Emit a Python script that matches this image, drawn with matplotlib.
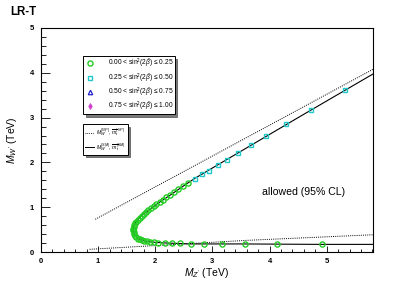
import matplotlib
matplotlib.use('Agg')
import matplotlib.pyplot as plt
from matplotlib.ticker import MultipleLocator

plt.rcParams['font.family'] = ['Liberation Sans', 'DejaVu Sans']
plt.rcParams['mathtext.fontset'] = 'custom'
plt.rcParams['mathtext.rm'] = 'Liberation Sans'
plt.rcParams['mathtext.it'] = 'Liberation Sans:italic'
plt.rcParams['mathtext.bf'] = 'Liberation Sans:bold'

# green circles: 0.00 < sin^2(2b) <= 0.25  (M_Z', M_W') in TeV
green_mz = [4.92, 4.13, 3.57, 3.16, 2.85, 2.63, 2.44, 2.29, 2.17, 2.05, 1.97, 1.91,
            1.86, 1.81, 1.77, 1.73, 1.70, 1.67, 1.65, 1.63, 1.62, 1.61, 1.61, 1.62,
            1.63, 1.65, 1.67, 1.70, 1.73, 1.76, 1.80, 1.84, 1.88, 1.93, 1.97, 2.02,
            2.08, 2.13, 2.19, 2.25, 2.32, 2.40, 2.49, 2.58]
green_mw = [0.17, 0.17, 0.18, 0.18, 0.18, 0.18, 0.19, 0.19, 0.20, 0.21, 0.22, 0.23,
            0.24, 0.25, 0.27, 0.28, 0.30, 0.33, 0.36, 0.40, 0.44, 0.48, 0.52, 0.56,
            0.60, 0.64, 0.68, 0.72, 0.76, 0.80, 0.85, 0.89, 0.94, 0.99, 1.03, 1.07,
            1.12, 1.17, 1.22, 1.27, 1.33, 1.40, 1.47, 1.55]

# cyan squares: 0.25 < sin^2(2b) <= 0.50
cyan_mz = [2.70, 2.81, 2.94, 3.09, 3.25, 3.44, 3.68, 3.94, 4.29, 4.73, 5.32]
cyan_mw = [1.64, 1.73, 1.81, 1.94, 2.05, 2.22, 2.38, 2.59, 2.86, 3.17, 3.62]

# no points in the other two bins
blue_mz, blue_mw = [], []
mag_mz, mag_mw = [], []

# SM curve (solid)
sm_mz = [5.90, 4.90, 3.50, 2.60, 2.20, 1.95, 1.80, 1.70, 1.64, 1.61, 1.62, 1.66,
         1.73, 1.82, 1.92, 2.05, 2.25, 2.50, 2.70, 3.50, 4.50, 5.90]
sm_mw = [0.17, 0.17, 0.18, 0.18, 0.20, 0.22, 0.25, 0.30, 0.38, 0.48, 0.58, 0.67,
         0.77, 0.87, 0.97, 1.09, 1.26, 1.48, 1.65, 2.25, 3.00, 4.04]

# NP bounds (dotted)
np_up_mz = [0.95, 5.90]
np_up_mw = [0.73, 4.14]
np_lo_mz = [0.85, 3.60, 5.90]
np_lo_mw = [0.06, 0.26, 0.39]

fig = plt.figure(figsize=(4.15, 2.81), dpi=100)
ax = fig.add_axes([0.0988, 0.1032, 0.80, 0.7972])

ax.plot(np_up_mz, np_up_mw, color='black', lw=0.7, ls=(0, (1, 1.2)))
ax.plot(np_lo_mz, np_lo_mw, color='black', lw=0.7, ls=(0, (1, 1.2)))
ax.plot(sm_mz, sm_mw, color='black', lw=0.8)

h1, = ax.plot(green_mz, green_mw, ls='none', marker='o', ms=3.7, mfc='none',
              mec='#22cc22', mew=1.0)
h2, = ax.plot(cyan_mz, cyan_mw, ls='none', marker='s', ms=3.4, mfc='none',
              mec='#22c8c8', mew=1.0)
h3, = ax.plot(blue_mz, blue_mw, ls='none', marker='^', ms=3.2, mfc='none',
              mec='#2222cc', mew=0.9)
h4, = ax.plot(mag_mz, mag_mw, ls='none', marker='d', ms=3.0, mfc='#cc44cc',
              mec='#cc44cc', mew=0.6)

ax.set_xlim(0, 5.81)
ax.set_ylim(0, 5)
ax.xaxis.set_major_locator(MultipleLocator(1))
ax.xaxis.set_minor_locator(MultipleLocator(0.2))
ax.yaxis.set_major_locator(MultipleLocator(1))
ax.yaxis.set_minor_locator(MultipleLocator(0.2))
ax.tick_params(axis='both', which='both', direction='in', labelsize=5.5, width=0.6)
ax.tick_params(axis='x', which='major', length=4.5, pad=4)
ax.tick_params(axis='x', which='minor', length=2.3)
ax.tick_params(axis='y', which='major', length=6.5, pad=5)
ax.tick_params(axis='y', which='minor', length=3.3)
for lab in ax.get_xticklabels() + ax.get_yticklabels():
    lab.set_fontweight('bold')
for sp in ax.spines.values():
    sp.set_linewidth(0.8)

ax.set_xlabel("$M_{Z'}$ (TeV)", fontsize=7.5, labelpad=1)
ax.set_ylabel("$M_{W'}$ (TeV)", fontsize=7.5, labelpad=8)

ax.text(0.79, 0.27, 'allowed (95% CL)', transform=ax.transAxes, fontsize=7.6,
        ha='center', va='center')
fig.text(0.025, 0.958, 'LR-T', fontsize=8.3, fontweight='bold', ha='left', va='center')

shadow = {'color': '0.35', 'alpha': 0.8}
labels = [r'0.00 < sin$^2$(2$\bar{\beta}$) ≤ 0.25',
          r'0.25 < sin$^2$(2$\bar{\beta}$) ≤ 0.50',
          r'0.50 < sin$^2$(2$\bar{\beta}$) ≤ 0.75',
          r'0.75 < sin$^2$(2$\bar{\beta}$) ≤ 1.00']
leg1 = ax.legend([h1, h2, h3, h4], labels, loc='upper left',
                 bbox_to_anchor=(0.1265, 0.875), fontsize=4.8, frameon=True,
                 fancybox=False, shadow=shadow, edgecolor='black', framealpha=1,
                 borderpad=0.15, labelspacing=0.15, handlelength=1.8,
                 handletextpad=1.8, borderaxespad=0)
leg1.get_frame().set_linewidth(0.7)
ax.add_artist(leg1)

l_np, = ax.plot([], [], color='black', lw=0.6, ls=(0, (1, 1.2)))
l_sm, = ax.plot([], [], color='black', lw=0.7)
leg2 = ax.legend([l_np, l_sm],
                 [r"$M_{W'}^{(NP)}$, $\overline{m}_t^{(NP)}$",
                  r"$M_{W'}^{(SM)}$, $\overline{m}_t^{(SM)}$"],
                 loc='upper left', bbox_to_anchor=(0.1265, 0.571), fontsize=3.8,
                 frameon=True, fancybox=False, shadow=shadow, edgecolor='black',
                 framealpha=1, borderpad=0.4, labelspacing=0.45, handlelength=1.6,
                 handletextpad=0.4, borderaxespad=0)
leg2.get_frame().set_linewidth(0.7)

fig.savefig('out.png', dpi=100)
